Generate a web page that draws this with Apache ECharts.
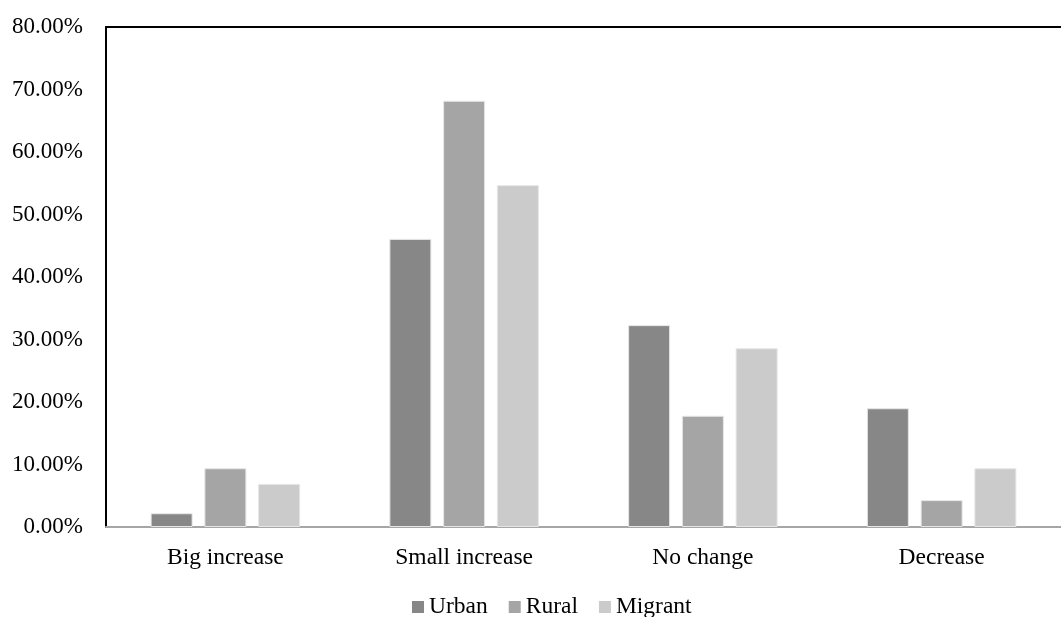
<!DOCTYPE html>
<html><head><meta charset="utf-8">
<script src="https://cdn.jsdelivr.net/npm/echarts@6/dist/echarts.min.js"></script>
<style>html,body{margin:0;padding:0;background:#fff}#c{width:1061px;height:617px}</style>
</head><body><div id="c"></div>
<script>
const categories = ['Big increase', 'Small increase', 'No change', 'Decrease'];
const urban = [2.2, 46.1, 32.3, 19.0];
const rural = [9.4, 68.2, 17.8, 4.3];
const migrant = [6.9, 54.7, 28.6, 9.4];
const seriesNames = ['Urban', 'Rural', 'Migrant'];
const colors = ['#878787', '#a5a5a5', '#cbcbcb'];
const yTicks = [0, 10, 20, 30, 40, 50, 60, 70, 80];

const font = 'Liberation Serif';
const chart = echarts.init(document.getElementById('c'), null, {renderer: 'canvas'});
const mk = (name, data, i) => ({
  name, type: 'bar', data, barWidth: 42, barGap: '28%',
  itemStyle: {color: colors[i], borderColor: '#e6e6e6', borderWidth: 1}
});
chart.setOption({
  animation: false,
  backgroundColor: '#fff',
  color: colors,
  grid: {left: 106, top: 27, right: -2, bottom: 90},
  legend: {
    top: 590, left: 407, itemWidth: 12, itemHeight: 12, itemGap: 21,
    icon: 'rect',
    itemStyle: {borderWidth: 0},
    textStyle: {fontFamily: font, fontSize: 23.5, color: '#000'},
    data: seriesNames
  },
  xAxis: [{
    type: 'category', data: categories,
    axisLine: {lineStyle: {color: '#a6a6a6', width: 2}},
    axisTick: {show: false},
    axisLabel: {fontFamily: font, fontSize: 23.5, color: '#000', margin: 19}
  }, {
    type: 'category', data: categories, position: 'top',
    axisLine: {lineStyle: {color: '#000', width: 2}},
    axisTick: {show: false}, axisLabel: {show: false}
  }],
  yAxis: {
    type: 'value', min: 0, max: 80, interval: 10,
    axisLine: {show: true, lineStyle: {color: '#000', width: 2}},
    axisTick: {show: false},
    splitLine: {show: false},
    axisLabel: {fontFamily: font, fontSize: 23, color: '#000', margin: 23,
      formatter: v => yTicks.includes(v) ? v.toFixed(2) + '%' : ''}
  },
  series: [mk(seriesNames[0], urban, 0), mk(seriesNames[1], rural, 1), mk(seriesNames[2], migrant, 2)]
});
</script></body></html>
